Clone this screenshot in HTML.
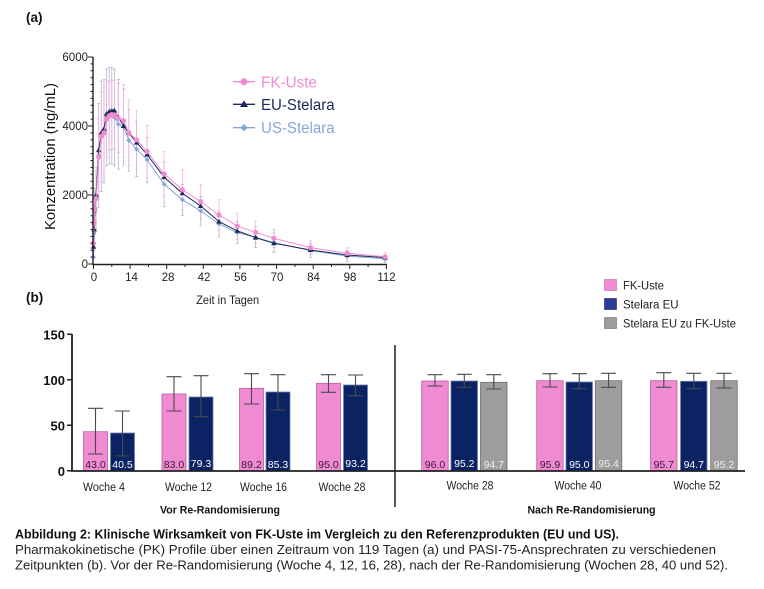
<!DOCTYPE html>
<html><head><meta charset="utf-8"><style>
html,body{margin:0;padding:0;background:#fff;}
svg{display:block;font-family:"Liberation Sans",Arial,sans-serif;}
</style></head><body>
<svg width="764" height="589" viewBox="0 0 764 589" xmlns="http://www.w3.org/2000/svg">
<defs>
<marker id="mc" markerUnits="userSpaceOnUse" markerWidth="8" markerHeight="8" refX="4" refY="4"><circle cx="4" cy="4" r="2.6" fill="#f08ad2"/></marker>
<marker id="mt" markerUnits="userSpaceOnUse" markerWidth="8" markerHeight="8" refX="4" refY="4"><path d="M4 1.2 L6.8 6 L1.2 6 Z" fill="#1b2a5c"/></marker>
<marker id="md" markerUnits="userSpaceOnUse" markerWidth="8" markerHeight="8" refX="4" refY="4"><path d="M4 1.5 L6.5 4 L4 6.5 L1.5 4 Z" fill="#84a6d8"/></marker>
</defs>
<rect width="764" height="589" fill="#fff"/>

<!-- (a) -->
<text x="26" y="22" font-size="13.5" font-weight="bold" fill="#111">(a)</text>

<!-- error bars US -->
<path fill="none" stroke="#8d9abb" stroke-width="0.8" opacity="0.7" d="
M94.15 215.7V250.3M92.6 215.7h3M92.6 250.3h3
M94.8 188.1V236.5M93.3 188.1h3
M96.1 167.5V229.5M94.6 167.5h3M94.6 229.5h3
M98.7 103.5V207.1M97.2 103.5h3M97.2 207.1h3
M101.3 81.2V191.6M99.8 81.2h3M99.8 191.6h3
M104 79.4V183M102.5 79.4h3M102.5 183h3
M106.6 69.1V165.7M105.1 69.1h3M105.1 165.7h3
M109.2 67.4V164M107.7 67.4h3M107.7 164h3
M111.8 67.4V164M110.3 67.4h3M110.3 164h3
M114.4 69.1V165.7M112.9 69.1h3M112.9 165.7h3
M118.3 79.4V169.2M116.8 79.4h3M116.8 169.2h3
M123.6 89V165M122.1 89h3M122.1 165h3
M128.8 109.5V171.5M127.3 109.5h3M127.3 171.5h3
M136.6 121.5V176.7M135.1 121.5h3M135.1 176.7h3
M147.1 137.4V182.2M145.6 137.4h3M145.6 182.2h3
M164.1 161.9V206.7M162.6 161.9h3M162.6 206.7h3
M182.4 184.3V215.3M180.9 184.3h3M180.9 215.3h3
M200.7 196.4V225.4M199.2 196.4h3M199.2 225.4h3
M219 210.9V237.1M217.5 210.9h3M217.5 237.1h3
M237.3 221.6V243.6M235.8 221.6h3M235.8 243.6h3
M255.6 226.9V247.7M254.1 226.9h3M254.1 247.7h3
M273.9 232.9V252.3M272.4 232.9h3M272.4 252.3h3
M310.5 243.6V257.4M309 243.6h3M309 257.4h3
M347.2 250.6V261.6M345.7 250.6h3M345.7 261.6h3
M385.1 254.9V262.5M383.6 254.9h3M383.6 262.5h3"/>
<!-- error bars pink -->
<path fill="none" stroke="#f3a6da" stroke-width="0.8" opacity="0.85" d="
M93.5 232.9V253.7
M94.15 205.3V239.9
M94.8 188.1V229.5
M96.1 170.9V226.1M94.6 170.9h3
M98.7 119V195M97.2 119h3M97.2 195h3
M101.3 91.5V181.3M99.8 91.5h3M99.8 181.3h3
M104 88V177.8M102.5 88h3M102.5 177.8h3
M106.6 81.1V157.1M105.1 81.1h3M105.1 157.1h3
M109.2 81.2V150.2M107.7 81.2h3M107.7 150.2h3
M111.8 80.1V149.1M110.3 80.1h3M110.3 149.1h3
M114.4 80.5V149.5M112.9 80.5h3M112.9 149.5h3
M118.3 83.6V152.6M116.8 83.6h3M116.8 152.6h3
M123.6 84.6V157M122.1 84.6h3M122.1 157h3
M128.8 100.1V165.7M127.3 100.1h3M127.3 165.7h3
M136.6 110.5V169.1M135.1 110.5h3M135.1 169.1h3
M147.1 125.3V177.7M145.6 125.3h3M145.6 177.7h3
M164.1 151.6V196.4M162.6 151.6h3M162.6 196.4h3
M182.4 169.8V209.8M180.9 169.8h3M180.9 209.8h3
M200.7 184.3V218.9M199.2 184.3h3M199.2 218.9h3
M219 199.8V230.2M217.5 199.8h3M217.5 230.2h3
M237.3 213V239.2M235.8 213h3M235.8 239.2h3
M255.6 221.3V243.3M254.1 221.3h3M254.1 243.3h3
M273.9 229.3V247.3M272.4 229.3h3M272.4 247.3h3
M310.5 240.7V254.5M309 240.7h3M309 254.5h3
M347.2 247.8V258.8M345.7 247.8h3M345.7 258.8h3
M385.1 252.7V260.9M383.6 252.7h3M383.6 260.9h3"/>

<!-- series lines -->
<polyline fill="none" stroke="#84a6d8" stroke-width="1" marker-start="url(#md)" marker-mid="url(#md)" marker-end="url(#md)" points="93.5,257.1 94.15,233 94.8,212.3 96.1,198.5 98.7,155.3 101.3,136.4 104,131.2 106.6,117.4 109.2,115.7 111.8,115.7 114.4,117.4 118.3,124.3 123.6,127 128.8,140.5 136.6,149.1 147.1,159.8 164.1,184.3 182.4,199.8 200.7,210.9 219,224 237.3,232.6 255.6,237.3 273.9,242.6 310.5,250.5 347.2,256.1 385.1,258.7"/>
<polyline fill="none" stroke="#1b2a5c" stroke-width="1" marker-start="url(#mt)" marker-mid="url(#mt)" marker-end="url(#mt)" points="93.5,246.8 94.15,229.5 94.8,208.8 96.1,195 98.7,150.2 101.3,132.9 104,128.8 106.6,113.9 109.2,111.5 111.8,110.8 114.4,110.5 118.3,117.4 123.6,126 128.8,132.9 136.6,142.6 147.1,154.6 164.1,177.1 182.4,193.3 200.7,206 219,221.6 237.3,230.9 255.6,237.6 273.9,243.3 310.5,250 347.2,255 385.1,257.6"/>
<polyline fill="none" stroke="#f08ad2" stroke-width="1" marker-start="url(#mc)" marker-mid="url(#mc)" marker-end="url(#mc)" points="93.5,243.3 94.15,222.6 94.8,208.8 96.1,198.5 98.7,157 101.3,136.4 104,132.9 106.6,119.1 109.2,115.7 111.8,114.6 114.4,115 118.3,118.1 123.6,120.8 128.8,132.9 136.6,139.8 147.1,151.5 164.1,174 182.4,189.8 200.7,201.6 219,215 237.3,226.1 255.6,232.3 273.9,238.3 310.5,247.6 347.2,253.3 385.1,256.8"/>

<!-- axes (a) -->
<path fill="none" stroke="#222" stroke-width="1.4" d="M93 57V264.5H387"/>
<path fill="none" stroke="#222" stroke-width="1" d="
M88 264H93M88 195H93M88 126H93M88 57H93
M90.5 257.1H93M90.5 250.2H93M90.5 243.3H93M90.5 236.4H93M90.5 229.5H93M90.5 222.6H93M90.5 215.7H93M90.5 208.8H93M90.5 201.9H93
M90.5 188.1H93M90.5 181.2H93M90.5 174.3H93M90.5 167.4H93M90.5 160.5H93M90.5 153.6H93M90.5 146.7H93M90.5 139.8H93M90.5 132.9H93
M90.5 119.1H93M90.5 112.2H93M90.5 105.3H93M90.5 98.4H93M90.5 91.5H93M90.5 84.6H93M90.5 77.7H93M90.5 70.8H93M90.5 63.9H93
M93.5 264V269M130.1 264V269M166.7 264V269M203.3 264V269M239.9 264V269M276.6 264V269M313.2 264V269M349.8 264V269M386.4 264V269
M111.8 264V267M148.4 264V267M185 264V267M221.6 264V267M258.2 264V267M294.9 264V267M331.5 264V267M368.1 264V267"/>
<g font-size="11.5" fill="#222" text-anchor="end">
<text x="88" y="61">6000</text><text x="88" y="130">4000</text><text x="88" y="199">2000</text><text x="88" y="268">0</text>
</g>
<g font-size="11.5" fill="#222" text-anchor="middle">
<text x="94" y="281">0</text><text x="131.5" y="281">14</text><text x="168" y="281">28</text><text x="204" y="281">42</text><text x="240.5" y="281">56</text><text x="277" y="281">70</text><text x="313.5" y="281">84</text><text x="350" y="281">98</text><text x="386.5" y="281">112</text>
</g>
<text transform="translate(55,156.5) rotate(-90)" text-anchor="middle" font-size="14.5" fill="#111" textLength="147" lengthAdjust="spacingAndGlyphs">Konzentration (ng/mL)</text>
<text x="227.7" y="304" text-anchor="middle" font-size="12" fill="#222" textLength="63" lengthAdjust="spacingAndGlyphs">Zeit in Tagen</text>

<!-- legend (a) -->
<path stroke="#f08ad2" stroke-width="1.3" d="M233 81.7H255"/><circle cx="244" cy="81.7" r="3.5" fill="#f08ad2"/>
<path stroke="#1b2a5c" stroke-width="1.3" d="M233 104.3H255"/><path d="M244 100.3L248 107L240 107Z" fill="#1b2a5c"/>
<path stroke="#84a6d8" stroke-width="1.3" d="M233 127.7H255"/><path d="M244 124L247.7 127.7L244 131.4L240.3 127.7Z" fill="#84a6d8"/>
<text x="261" y="87.3" font-size="15.5" fill="#f08ad2" textLength="56" lengthAdjust="spacingAndGlyphs">FK-Uste</text>
<text x="261" y="109.8" font-size="15.5" fill="#1b2a5c" textLength="73.6" lengthAdjust="spacingAndGlyphs">EU-Stelara</text>
<text x="261" y="133.2" font-size="15.5" fill="#84a6d8" textLength="73.6" lengthAdjust="spacingAndGlyphs">US-Stelara</text>

<!-- (b) -->
<text x="26" y="302" font-size="13.5" font-weight="bold" fill="#111">(b)</text>

<!-- legend (b) -->
<rect x="604.5" y="279.5" width="12" height="11" fill="#f08ad2" stroke="#b86aa3" stroke-width="0.6"/>
<rect x="604.5" y="298.5" width="12" height="11" fill="#2b3a98" stroke="#1a2566" stroke-width="0.6"/>
<rect x="604.5" y="317.5" width="12" height="11" fill="#9d9d9d" stroke="#707070" stroke-width="0.6"/>
<g font-size="11.5" fill="#222">
<text x="623" y="289.5" textLength="41" lengthAdjust="spacingAndGlyphs">FK-Uste</text>
<text x="623" y="308.5">Stelara EU</text>
<text x="623" y="327.5" textLength="113" lengthAdjust="spacingAndGlyphs">Stelara EU zu FK-Uste</text>
</g>

<!-- bars -->
<g stroke-width="0.8">
<rect x="83.5" y="431.7" width="24" height="39.3" fill="#f08ad2" stroke="#b8609f"/>
<rect x="110.5" y="433" width="24" height="38" fill="#0b2363" stroke="#7080b0"/>
<rect x="162" y="394" width="24" height="77" fill="#f08ad2" stroke="#b8609f"/>
<rect x="189" y="397" width="24" height="74" fill="#0b2363" stroke="#7080b0"/>
<rect x="239.5" y="388.3" width="24" height="82.7" fill="#f08ad2" stroke="#b8609f"/>
<rect x="266" y="392" width="24" height="79" fill="#0b2363" stroke="#7080b0"/>
<rect x="316.5" y="383.3" width="24" height="87.7" fill="#f08ad2" stroke="#b8609f"/>
<rect x="343.5" y="385" width="24" height="86" fill="#0b2363" stroke="#7080b0"/>
<rect x="421.7" y="381" width="26.5" height="90" fill="#f08ad2" stroke="#b8609f"/>
<rect x="451" y="381" width="26.5" height="90" fill="#0b2363" stroke="#7080b0"/>
<rect x="480.5" y="382.3" width="26.5" height="88.7" fill="#9d9d9d" stroke="#707070"/>
<rect x="536.7" y="380.7" width="26.5" height="90.3" fill="#f08ad2" stroke="#b8609f"/>
<rect x="566" y="382" width="26.5" height="89" fill="#0b2363" stroke="#7080b0"/>
<rect x="595.3" y="380.7" width="26.5" height="90.3" fill="#9d9d9d" stroke="#707070"/>
<rect x="650.5" y="380.7" width="26.5" height="90.3" fill="#f08ad2" stroke="#b8609f"/>
<rect x="680.5" y="381.3" width="26.5" height="89.7" fill="#0b2363" stroke="#7080b0"/>
<rect x="710.7" y="380.7" width="26.5" height="90.3" fill="#9d9d9d" stroke="#707070"/>
</g>

<!-- error bars (b) -->
<path fill="none" stroke="#4a4a4a" stroke-width="1.1" d="
M95.5 408.3V454M88 408.3h15M88 454h15
M122.5 411V456M115 411h15M115 456h15
M174 376.7V411M166.5 376.7h15M166.5 411h15
M201 375.7V416.7M193.5 375.7h15M193.5 416.7h15
M251.5 373.7V404M244 373.7h15M244 404h15
M278 374.7V410M270.5 374.7h15M270.5 410h15
M328.5 374.7V392.3M321 374.7h15M321 392.3h15
M355.5 375V395.7M348 375h15M348 395.7h15
M435 374.7V386M427.5 374.7h15M427.5 386h15
M464.3 374.3V387.3M456.8 374.3h15M456.8 387.3h15
M493.8 374.7V389M486.3 374.7h15M486.3 389h15
M550 373.7V387M542.5 373.7h15M542.5 387h15
M579.3 373.7V388.7M571.8 373.7h15M571.8 388.7h15
M608.6 373.3V387.3M601.1 373.3h15M601.1 387.3h15
M663.8 372.7V387.3M656.3 372.7h15M656.3 387.3h15
M693.8 373.3V388.7M686.3 373.3h15M686.3 388.7h15
M724 373.3V388M716.5 373.3h15M716.5 388h15"/>

<!-- bar labels -->
<g font-size="10.5" text-anchor="middle">
<g fill="#3a1a35">
<text x="95.5" y="468">43.0</text><text x="174" y="468">83.0</text><text x="251.5" y="468">89.2</text><text x="328.5" y="468">95.0</text>
<text x="435" y="468">96.0</text><text x="550" y="468">95.9</text><text x="663.8" y="468">95.7</text>
</g>
<g fill="#ffffff">
<text x="122.5" y="468">40.5</text><text x="201" y="467">79.3</text><text x="278" y="468">85.3</text><text x="355.5" y="467">93.2</text>
<text x="464.3" y="467">95.2</text><text x="579.3" y="468">95.0</text><text x="693.8" y="468">94.7</text>
</g>
<g fill="#eeeeee">
<text x="493.8" y="468">94.7</text><text x="608.6" y="467">95.4</text><text x="724" y="468">95.2</text>
</g>
</g>

<!-- axes (b) -->
<path fill="none" stroke="#222" stroke-width="1.8" d="M72 334V471.5M71 471H745"/>
<path fill="none" stroke="#222" stroke-width="1.5" d="M67 334.3H72M67 379.8H72M67 425.3H72M67 470.7H72"/>
<path fill="none" stroke="#222" stroke-width="1.5" d="M395 345V507"/>
<g font-size="13" font-weight="bold" fill="#111" text-anchor="end">
<text x="65" y="339.5">150</text><text x="65" y="385">100</text><text x="65" y="430.5">50</text><text x="65" y="476">0</text>
</g>
<g font-size="11.5" fill="#222" text-anchor="middle">
<text x="104" y="491" textLength="42" lengthAdjust="spacingAndGlyphs">Woche 4</text>
<text x="188.5" y="491" textLength="47" lengthAdjust="spacingAndGlyphs">Woche 12</text>
<text x="263.5" y="491" textLength="47" lengthAdjust="spacingAndGlyphs">Woche 16</text>
<text x="342" y="491" textLength="47" lengthAdjust="spacingAndGlyphs">Woche 28</text>
<text x="470" y="489.5" textLength="47" lengthAdjust="spacingAndGlyphs">Woche 28</text>
<text x="578" y="489.5" textLength="47" lengthAdjust="spacingAndGlyphs">Woche 40</text>
<text x="697" y="489.5" textLength="47" lengthAdjust="spacingAndGlyphs">Woche 52</text>
</g>
<g font-size="11" font-weight="bold" fill="#111" text-anchor="middle">
<text x="220" y="513.5" textLength="120" lengthAdjust="spacingAndGlyphs">Vor Re-Randomisierung</text>
<text x="591.5" y="513.5" textLength="128" lengthAdjust="spacingAndGlyphs">Nach Re-Randomisierung</text>
</g>

<!-- caption -->
<text x="15" y="538.5" font-size="12.5" font-weight="bold" fill="#111" textLength="604" lengthAdjust="spacingAndGlyphs">Abbildung 2: Klinische Wirksamkeit von FK-Uste im Vergleich zu den Referenzprodukten (EU und US).</text>
<text x="15" y="554" font-size="12.5" fill="#222" textLength="701" lengthAdjust="spacingAndGlyphs">Pharmakokinetische (PK) Profile über einen Zeitraum von 119 Tagen (a) und PASI-75-Ansprechraten zu verschiedenen</text>
<text x="15" y="569.5" font-size="12.5" fill="#222" textLength="713" lengthAdjust="spacingAndGlyphs">Zeitpunkten (b). Vor der Re-Randomisierung (Woche 4, 12, 16, 28), nach der Re-Randomisierung (Wochen 28, 40 und 52).</text>
</svg>
</body></html>
